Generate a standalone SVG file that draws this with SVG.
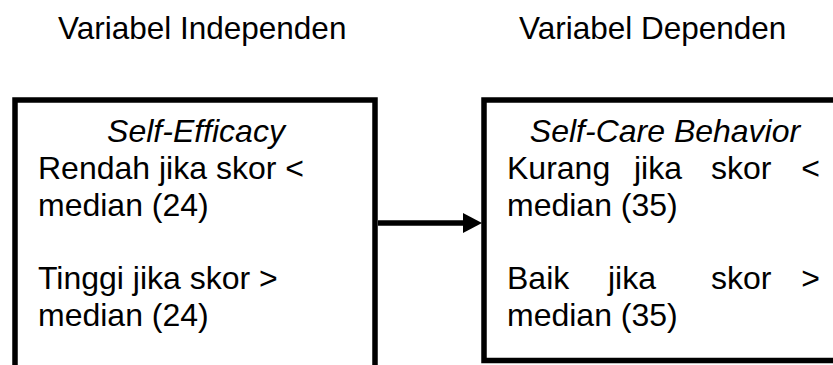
<svg xmlns="http://www.w3.org/2000/svg" width="833" height="365" viewBox="0 0 833 365">
  <style>
    text { font-family: "Liberation Sans", Arial, sans-serif; font-size: 32px; fill: #000; }
    .head { font-size: 31.5px; }
    .it { font-style: italic; }
    .box { fill: #fff; stroke: #000; stroke-width: 5.5; }
    .conn { stroke: #000; stroke-width: 5.5; fill: none; }
    .head-arrow { fill: #000; }
  </style>
  <rect width="833" height="365" fill="#fff"/>

  <g id="heading-independen">
    <text class="head" x="58" y="39">Variabel Independen</text>
  </g>
  <g id="heading-dependen">
    <text class="head" x="519" y="39">Variabel Dependen</text>
  </g>

  <g id="node-self-efficacy">
    <rect class="box" x="15" y="100" width="360" height="300"/>
    <text class="it" x="196" y="142" text-anchor="middle">Self-Efficacy</text>
    <text x="38" y="179">Rendah jika skor &lt;</text>
    <text x="38" y="215.5">median (24)</text>
    <text x="38" y="289">Tinggi jika skor &gt;</text>
    <text x="38" y="325.5">median (24)</text>
  </g>

  <g id="node-self-care">
    <rect class="box" x="484" y="100" width="380" height="260.5"/>
    <text class="it" x="665" y="142" text-anchor="middle">Self-Care Behavior</text>
    <text x="507" y="179">Kurang</text>
    <text x="634" y="179">jika</text>
    <text x="711" y="179">skor</text>
    <text x="820" y="179" text-anchor="end">&lt;</text>
    <text x="507" y="215.5">median (35)</text>
    <text x="507" y="289">Baik</text>
    <text x="608" y="289">jika</text>
    <text x="711" y="289">skor</text>
    <text x="820" y="289" text-anchor="end">&gt;</text>
    <text x="507" y="325.5">median (35)</text>
  </g>

  <g id="connectors">
    <line class="conn" x1="378" y1="223" x2="468" y2="223"/>
    <path class="head-arrow" d="M463,213 L482,223 L463,233 Z"/>
  </g>
</svg>
